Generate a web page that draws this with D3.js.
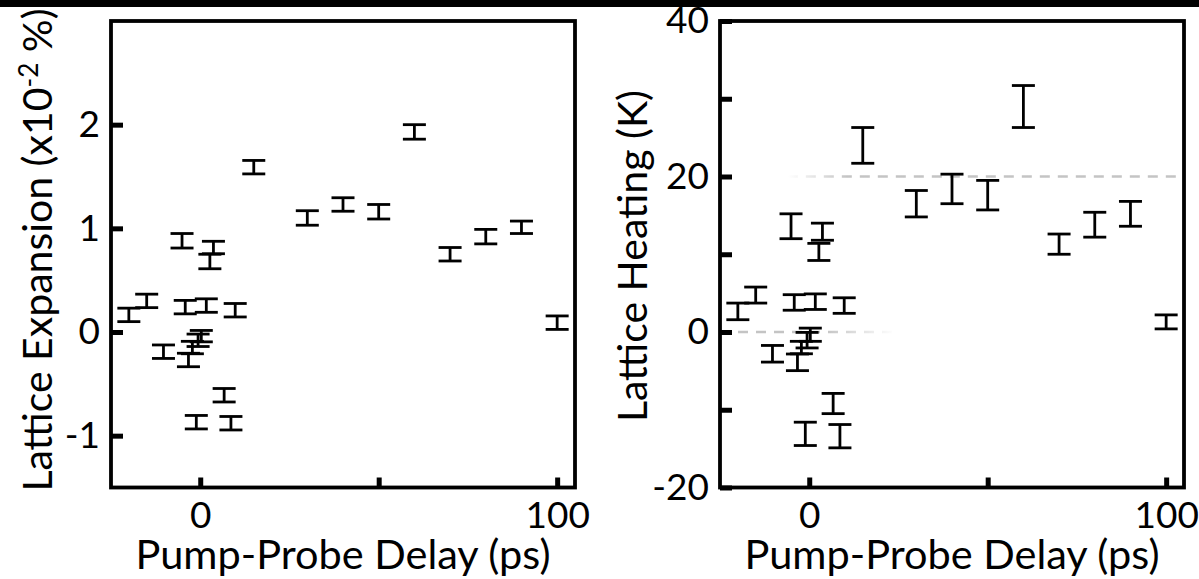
<!DOCTYPE html>
<html>
<head>
<meta charset="utf-8">
<script src="https://cdn.jsdelivr.net/npm/d3@7"></script>
<style>
  body { margin: 0; background: #fff; }
  svg { display: block; }
  text { font-family: Lato, "Open Sans", sans-serif; fill: #000; }
</style>
</head>
<body>
<svg id="chart" width="1199" height="579"></svg>
<script>
// pump-probe delays (ps), shared by both panels
var delays     = [-20, -15, -10.3, -5.1, -4.2, -3.3, -2.2, -0.6, 0.3, -1.1, 1.7, 2.7, 3.7, 6.7, 8.6, 9.8, 15, 30, 40, 50, 60, 70, 80, 90, 100];
// left panel: lattice expansion (x10^-2 %) and its error
var expansion  = [0.165, 0.30, -0.19, 0.88, 0.24, -0.27, -0.15, -0.08, -0.04, -0.87, 0.255, 0.68, 0.815, -0.61, -0.88, 0.21, 1.59, 1.10, 1.23, 1.16, 1.93, 0.75, 0.92, 1.01, 0.09];
var expErr     = [0.065, 0.065, 0.065, 0.07, 0.065, 0.065, 0.06, 0.06, 0.055, 0.065, 0.065, 0.07, 0.06, 0.065, 0.065, 0.065, 0.065, 0.07, 0.065, 0.07, 0.07, 0.065, 0.07, 0.06, 0.065];
// right panel: lattice heating (K) and its error
var heating    = [2.65, 4.75, -2.8, 13.6, 3.8, -3.9, -2.0, -1.05, -0.35, -13.1, 3.9, 10.3, 12.9, -9.2, -13.4, 3.4, 24.0, 16.5, 18.4, 17.6, 29.0, 11.3, 13.8, 15.2, 1.3];
var heatErr    = [1.07, 1.03, 1.07, 1.6, 1.0, 1.07, 0.8, 1.0, 0.85, 1.5, 1.0, 1.1, 1.1, 1.3, 1.5, 1.0, 2.3, 1.7, 1.9, 1.9, 2.7, 1.3, 1.6, 1.6, 0.9];

var xTicks       = [0, 50, 100];
var xTickLabels  = [0, 100];
var expTicks     = [-1, 0, 1, 2];
var heatTicks    = [-20, -10, 0, 10, 20, 30, 40];
var heatLabels   = [-20, 0, 20, 40];
// grey dashed guide lines in the heating panel: level and delay span
var guideLevels  = [0, 20];
var guideSpans   = [[-25, 24], [-6, 105]];

var svg = d3.select("#chart");
svg.append("rect").attr("width", 1199).attr("height", 579).attr("fill", "#fff");

var plotTop = 21, plotBottom = 487.5;
var capHalf = 11.5;

function makePanel(opts) {
  var g = svg.append("g");

  var x = d3.scaleLinear().domain([-25, 105]).range([opts.left, opts.left + 464]);
  var y = d3.scaleLinear().domain(opts.yDomain).range([plotBottom, plotTop]);

  // guides first so bars sit over them
  if (opts.guides) {
    var defs = svg.append("defs");
    opts.guides.forEach(function(lvl, i) {
      var span = guideSpans[i];
      var id = "fade" + i;
      var grad = defs.append("linearGradient").attr("id", id)
        .attr("gradientUnits", "userSpaceOnUse")
        .attr("x1", x(span[0])).attr("x2", x(span[1])).attr("y1", 0).attr("y2", 0);
      if (i == 0) {
        grad.append("stop").attr("offset", 0).attr("stop-color", "#c4c4c4").attr("stop-opacity", 1);
        grad.append("stop").attr("offset", 0.6).attr("stop-color", "#c4c4c4").attr("stop-opacity", 1);
        grad.append("stop").attr("offset", 1).attr("stop-color", "#c4c4c4").attr("stop-opacity", 0);
      } else {
        grad.append("stop").attr("offset", 0).attr("stop-color", "#c4c4c4").attr("stop-opacity", 0);
        grad.append("stop").attr("offset", 0.15).attr("stop-color", "#c4c4c4").attr("stop-opacity", 1);
        grad.append("stop").attr("offset", 1).attr("stop-color", "#c4c4c4").attr("stop-opacity", 1);
      }
      g.append("line")
        .attr("x1", x(span[0])).attr("x2", x(span[1]))
        .attr("y1", y(lvl)).attr("y2", y(lvl))
        .attr("stroke", "url(#" + id + ")")
        .attr("stroke-width", 2.5)
        .attr("stroke-dasharray", "10,8");
    });
  }

  // error bars
  var pts = delays.map(function(d, i) {
    return { x: d, v: opts.values[i], e: opts.errors[i] };
  });
  var bars = g.selectAll(".bar").data(pts).enter().append("g").attr("class", "bar")
    .attr("stroke", "#000").attr("stroke-width", 2.8).attr("fill", "none");
  bars.append("line")
    .attr("x1", function(d) { return x(d.x); }).attr("x2", function(d) { return x(d.x); })
    .attr("y1", function(d) { return y(d.v - d.e); }).attr("y2", function(d) { return y(d.v + d.e); });
  bars.append("line")
    .attr("x1", function(d) { return x(d.x) - capHalf; }).attr("x2", function(d) { return x(d.x) + capHalf; })
    .attr("y1", function(d) { return y(d.v + d.e); }).attr("y2", function(d) { return y(d.v + d.e); });
  bars.append("line")
    .attr("x1", function(d) { return x(d.x) - capHalf; }).attr("x2", function(d) { return x(d.x) + capHalf; })
    .attr("y1", function(d) { return y(d.v - d.e); }).attr("y2", function(d) { return y(d.v - d.e); });

  // axes, ticks pointing inwards
  var yAxis = d3.axisLeft(y).tickValues(opts.yTicks).tickSize(-12).tickPadding(11)
    .tickFormat(function(d) { return opts.yLabels.indexOf(d) >= 0 ? d : ""; });
  var xAxis = d3.axisBottom(x).tickValues(xTicks).tickSize(-10).tickPadding(14)
    .tickFormat(function(d) { return xTickLabels.indexOf(d) >= 0 ? d : ""; });

  var ya = g.append("g").attr("transform", "translate(" + opts.left + ",0)").call(yAxis);
  var xa = g.append("g").attr("transform", "translate(0," + plotBottom + ")").call(xAxis);
  [ya, xa].forEach(function(a) {
    a.select(".domain").remove();
    a.selectAll(".tick line").attr("stroke", "#000").attr("stroke-width", 5);
    a.selectAll(".tick text").attr("font-size", 37).attr("font-family", "Lato, sans-serif").attr("fill", "#000");
  });

  // frame
  g.append("rect")
    .attr("x", x.range()[0]).attr("y", plotTop)
    .attr("width", x.range()[1] - x.range()[0]).attr("height", plotBottom - plotTop)
    .attr("fill", "none").attr("stroke", "#000").attr("stroke-width", 3.8);

  // titles
  g.append("text")
    .attr("x", (x.range()[0] + x.range()[1]) / 2).attr("y", 569)
    .attr("text-anchor", "middle").attr("font-size", 41.5)
    .text("Pump-Probe Delay (ps)");

  var yt = g.append("text")
    .attr("transform", "translate(" + opts.titleX + "," + opts.titleY + ") rotate(-90)")
    .attr("text-anchor", "middle").attr("font-size", 41);
  opts.title(yt);
}

makePanel({
  left: 111,
  yDomain: [-1.5, 3],
  values: expansion,
  errors: expErr,
  yTicks: expTicks,
  yLabels: expTicks,
  titleX: 52,
  titleY: 250,
  title: function(t) {
    t.append("tspan").text("Lattice Expansion (x10");
    t.append("tspan").attr("font-size", 26).attr("dy", -14).text("-2");
    t.append("tspan").attr("dy", 14).text(" %)");
  }
});

makePanel({
  left: 720,
  yDomain: [-20, 40],
  values: heating,
  errors: heatErr,
  yTicks: heatTicks,
  yLabels: heatLabels,
  titleX: 647,
  titleY: 256,
  guides: guideLevels,
  title: function(t) { t.text("Lattice Heating (K)"); }
});

// dark strip along the top edge of the figure
svg.append("rect").attr("x", 0).attr("y", 0).attr("width", 1199).attr("height", 7).attr("fill", "#000");
</script>
</body>
</html>
